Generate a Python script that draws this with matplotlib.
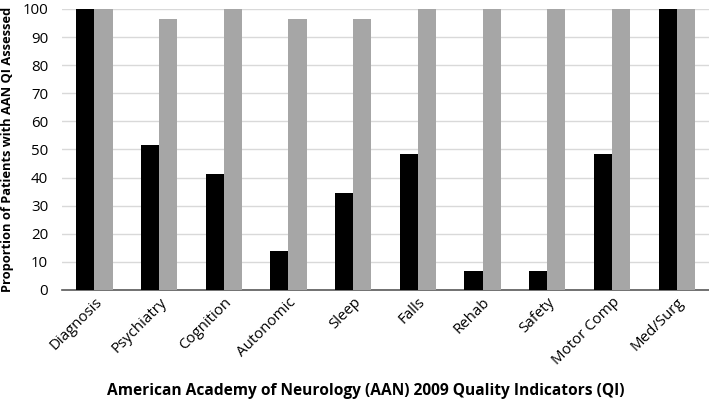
import numpy as np
import matplotlib
matplotlib.use("Agg")
import matplotlib.pyplot as plt

plt.rcParams['font.family'] = ['Open Sans', 'DejaVu Sans']

categories = ["Diagnosis", "Psychiatry", "Cognition", "Autonomic", "Sleep",
              "Falls", "Rehab", "Safety", "Motor Comp", "Med/Surg"]
black_vals = [100, 51.7, 41.4, 13.8, 34.5, 48.3, 6.9, 6.9, 48.3, 100]
gray_vals = [100, 96.6, 100, 96.6, 96.6, 100, 100, 100, 100, 100]

fig = plt.figure(figsize=(7.09, 4.07), dpi=100)
ax = fig.add_axes([0.0875, 0.2875, 0.9125, 0.6905])

x = np.arange(len(categories))
w = 0.28
ax.bar(x - w/2, black_vals, w, color="black", zorder=3)
ax.bar(x + w/2, gray_vals, w, color="#a6a6a6", zorder=3)

ax.set_xlim(-0.5, len(categories) - 0.5)
ax.set_ylim(0, 100)
ax.set_yticks(range(0, 101, 10))
ax.yaxis.grid(True, color="#d9d9d9", linewidth=1, zorder=0)
for s in ["top", "right", "left"]:
    ax.spines[s].set_visible(False)
ax.spines["bottom"].set_color("#595959")
ax.spines["bottom"].set_linewidth(1.2)
ax.tick_params(axis="both", length=0, labelsize=10.8, colors="black")
ax.tick_params(axis="y", pad=10)
ax.set_xticks(x)
ax.set_xticklabels(categories, rotation=45, ha="right", rotation_mode="anchor")

ax.set_ylabel("Proportion of Patients with AAN QI Assessed", fontsize=9.3,
              fontweight="bold", labelpad=6)
ax.set_xlabel("American Academy of Neurology (AAN) 2009 Quality Indicators (QI)",
              fontsize=11.2, fontweight="bold")
ax.xaxis.set_label_coords(0.47, -0.33)

fig.savefig("out.png", dpi=100)
